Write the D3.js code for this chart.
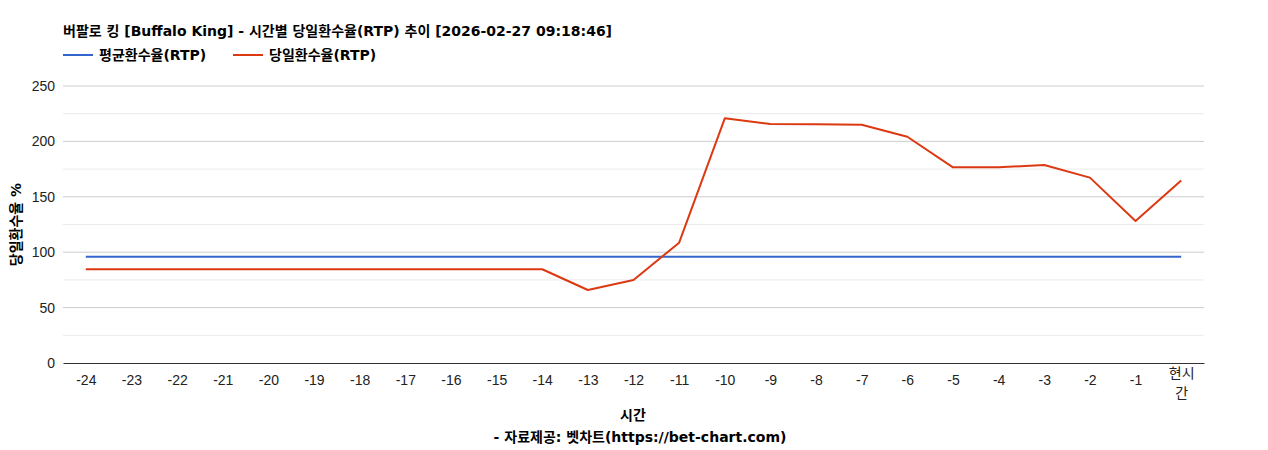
<!DOCTYPE html>
<html>
<head>
<meta charset="utf-8">
<script src="https://cdn.jsdelivr.net/npm/d3@7"></script>
<style>
  body { margin: 0; background: #fff; }
  text { font-family: "Liberation Sans", Arial, "Noto Sans CJK KR", sans-serif; }
  .kr { font-family: "DejaVu Sans", "Noto Sans CJK KR", sans-serif; }
</style>
</head>
<body>
<svg width="1268" height="450"></svg>
<script>
// hours before now
const hours = ["-24","-23","-22","-21","-20","-19","-18","-17","-16","-15","-14","-13","-12",
  "-11","-10","-9","-8","-7","-6","-5","-4","-3","-2","-1","현시간"];
const avgRtp = [96,96,96,96,96,96,96,96,96,96,96,96,96,96,96,96,96,96,96,96,96,96,96,96,96];
const dayRtp = [84.6,84.6,84.6,84.6,84.6,84.6,84.6,84.6,84.6,84.6,84.6,65.9,74.9,
  108.6,220.8,215.7,215.4,215.1,204.2,176.6,176.6,178.7,167.3,128.2,164.6];
const yTicks = [0,50,100,150,200,250];
const minorTicks = [25,75,125,175,225];

var svg = d3.select("svg"),
  plotLeft = 63, plotRight = 1204, plotTop = 86, plotBottom = 363;

var x = d3.scalePoint().domain(hours).range([plotLeft, plotRight]).padding(0.5);
var y = d3.scaleLinear().domain([0, 250]).range([plotBottom, plotTop]);

// gridlines
svg.append("g").selectAll("line").data(minorTicks).enter().append("line")
  .attr("x1", plotLeft).attr("x2", plotRight)
  .attr("y1", d => y(d)).attr("y2", d => y(d))
  .attr("stroke", "#ebebeb");
svg.append("g").selectAll("line").data(yTicks.slice(1)).enter().append("line")
  .attr("x1", plotLeft).attr("x2", plotRight)
  .attr("y1", d => y(d)).attr("y2", d => y(d))
  .attr("stroke", "#cccccc");

// y axis labels
var yAxis = svg.append("g")
  .attr("transform", "translate(" + plotLeft + ",0)")
  .call(d3.axisLeft(y).tickValues(yTicks).tickSize(0).tickPadding(8));
yAxis.select(".domain").remove();
yAxis.selectAll("text").attr("font-size", 14).attr("fill", "#222")
  .style("font-family", "'Liberation Sans', Arial, sans-serif");

// x axis
var xAxis = svg.append("g")
  .attr("transform", "translate(0," + plotBottom + ")")
  .call(d3.axisBottom(x).tickSize(0).tickPadding(12));
xAxis.select(".domain").attr("stroke", "#333");
xAxis.selectAll("text").attr("font-size", 14).attr("fill", "#222")
  .style("font-family", "'Liberation Sans', Arial, sans-serif")
  .each(function (d) {
    if (d === "현시간") {
      var t = d3.select(this).text(null).style("font-family", "'Noto Sans CJK KR', sans-serif");
      t.append("tspan").attr("x", 0).attr("dy", "0.71em").text("현시");
      t.append("tspan").attr("x", 0).attr("dy", "1.45em").text("간");
      t.attr("dy", null).attr("y", 5);
    }
  });

// lines
var line = d3.line().x((d, i) => x(hours[i])).y(d => y(d));
svg.append("path").datum(avgRtp)
  .attr("fill", "none").attr("stroke", "#3366cc").attr("stroke-width", 2)
  .attr("d", line);
svg.append("path").datum(dayRtp)
  .attr("fill", "none").attr("stroke", "#dc3912").attr("stroke-width", 2)
  .attr("stroke-linejoin", "round")
  .attr("d", line);

// title
svg.append("text").attr("class", "kr")
  .attr("x", 63).attr("y", 36)
  .attr("font-size", 14).attr("font-weight", "bold").attr("fill", "#000")
  .text("버팔로 킹 [Buffalo King] - 시간별 당일환수율(RTP) 추이 [2026-02-27 09:18:46]");

// legend
var legend = [["평균환수율(RTP)", "#3366cc", 63], ["당일환수율(RTP)", "#dc3912", 233]];
legend.forEach(function (l) {
  svg.append("line").attr("x1", l[2]).attr("x2", l[2] + 30)
    .attr("y1", 55).attr("y2", 55).attr("stroke", l[1]).attr("stroke-width", 2);
  svg.append("text").attr("class", "kr")
    .attr("x", l[2] + 36).attr("y", 60)
    .attr("font-size", 14).attr("font-weight", "bold").attr("fill", "#000")
    .text(l[0]);
});

// axis titles
svg.append("text").attr("class", "kr")
  .attr("transform", "translate(21," + (plotTop + plotBottom) / 2 + ") rotate(-90)")
  .attr("text-anchor", "middle")
  .attr("font-size", 14).attr("font-weight", "bold").attr("fill", "#000")
  .text("당일환수율 %");

svg.append("text").attr("class", "kr")
  .attr("x", 633).attr("y", 420).attr("text-anchor", "middle")
  .attr("font-size", 14).attr("font-weight", "bold").attr("fill", "#000")
  .text("시간");
svg.append("text").attr("class", "kr")
  .attr("x", 640).attr("y", 442).attr("text-anchor", "middle")
  .attr("font-size", 14).attr("font-weight", "bold").attr("fill", "#000")
  .text("- 자료제공: 벳차트(https://bet-chart.com)");
</script>
</body>
</html>
